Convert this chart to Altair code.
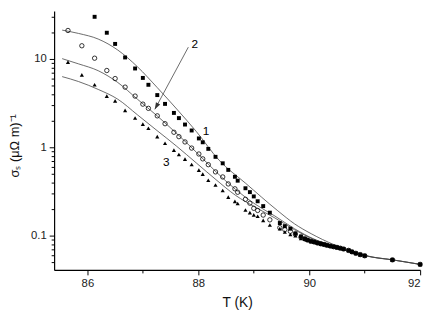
import altair as alt
import pandas as pd

# ---------------- data ----------------
T_MAIN = [85.65, 85.90, 86.13, 86.35, 86.50, 86.68, 86.86, 87.00, 87.10, 87.26,
          87.40, 87.56, 87.65, 87.76, 87.88, 88.01, 88.08, 88.18, 88.31, 88.44,
          88.54, 88.66, 88.71, 88.85, 88.93, 89.00, 89.07, 89.17, 89.29, 89.47,
          89.56, 89.66]
T_TAIL = [89.75, 89.85, 89.92, 89.97, 90.03, 90.09, 90.15, 90.21, 90.27, 90.32,
          90.38, 90.44, 90.50, 90.56, 90.62, 90.71, 90.77, 90.84, 90.92, 91.00,
          91.50, 92.00]

# series 1 (filled squares) starts at T = 86.13
SQ = [30.0, 19.8, 14.8, 10.4, 7.8, 6.1, 5.1, 3.9, 3.1, 2.45, 2.14, 1.81, 1.55,
      1.26, 1.14, 0.96, 0.78, 0.659, 0.555, 0.464, 0.419, 0.344, 0.311, 0.278,
      0.245, 0.216, 0.182, 0.139, 0.128, 0.120]
CI = [21.0, 14.1, 10.2, 7.4, 6.0, 4.8, 3.8, 3.08, 2.76, 2.27, 1.85, 1.48, 1.32,
      1.15, 0.98, 0.84, 0.74, 0.636, 0.527, 0.462, 0.385, 0.339, 0.310, 0.258,
      0.233, 0.204, 0.193, 0.171, 0.151, 0.123, 0.117, 0.112]
TR = [9.2, 6.6, 5.1, 3.8, 3.35, 2.62, 2.15, 1.83, 1.64, 1.32, 1.11, 0.93, 0.83,
      0.735, 0.639, 0.552, 0.497, 0.424, 0.374, 0.324, 0.273, 0.244, 0.231,
      0.195, 0.182, 0.172, 0.166, 0.149, 0.132, 0.120, 0.110, 0.103]

SQ_TAIL = [0.106, 0.098, 0.0925, 0.0893, 0.0866, 0.0848, 0.0826, 0.0808, 0.0794,
           0.0778, 0.0762, 0.0749, 0.0736, 0.0721, 0.0706, 0.0681, 0.0656, 0.0631,
           0.0610, 0.0592, 0.0532, 0.0473]
CI_TAIL = [0.104, 0.096, 0.0919, 0.0891, 0.0864, 0.0847, 0.0825, 0.0808, 0.0794,
           0.0778, 0.0762, 0.0749, 0.0736, 0.0721, 0.0706, 0.0681, 0.0656, 0.0631,
           0.0610, 0.0592, 0.0532, 0.0473]
TR_TAIL = [0.100, 0.093, 0.0912, 0.0888, 0.0862, 0.0846, 0.0824, 0.0807, 0.0793,
           0.0778, 0.0762, 0.0749, 0.0736, 0.0721, 0.0706, 0.0681, 0.0656, 0.0631,
           0.0610, 0.0592, 0.0532, 0.0473]

# fitted curves
C1_T = [85.545, 85.84, 86.195, 86.549, 86.903, 87.257, 87.611, 87.965, 88.372,
        88.85, 89.434, 89.735, 90.035, 90.442, 90.796, 91.15, 91.504, 92.0]
C1_S = [21.2, 19.45, 16.8, 12.6, 8.15, 4.76, 2.71, 1.506, 0.717, 0.393, 0.191,
        0.136, 0.1052, 0.0794, 0.0664, 0.0570, 0.0532, 0.0473]
C2_T = [85.545, 85.84, 86.195, 86.549, 86.903, 87.257, 87.611, 87.965, 88.319,
        88.673, 89.027, 89.381, 89.735, 90.088, 90.442, 91.009, 91.504, 92.0]
C2_S = [10.08, 8.80, 7.36, 5.41, 3.50, 2.27, 1.43, 0.880, 0.528, 0.333, 0.2268,
        0.1668, 0.1197, 0.0914, 0.0764, 0.0592, 0.0532, 0.0473]
C3_T = [85.545, 85.84, 86.195, 86.549, 86.903, 87.257, 87.611, 87.965, 88.319,
        88.673, 89.027, 89.381, 89.735, 90.088, 90.442, 91.009, 91.504, 92.0]
C3_S = [6.31, 5.55, 4.52, 3.50, 2.33, 1.545, 1.026, 0.664, 0.430, 0.2855, 0.210,
        0.1585, 0.1166, 0.0902, 0.0754, 0.0592, 0.0532, 0.0473]

LABELS = ["1", "2", "3"]
LABEL_T = [88.14, 87.935, 87.42]
LABEL_S = [1.545, 14.8, 0.676]

ARROW_T = [87.82, 87.216]
ARROW_S = [13.6, 2.69]

X_TICKS = [86, 87, 88, 89, 90, 91, 92]
Y_TICKS = [0.05, 0.06, 0.07, 0.08, 0.09, 0.1, 0.2, 0.3, 0.4, 0.5, 0.6, 0.7, 0.8,
           0.9, 1, 2, 3, 4, 5, 6, 7, 8, 9, 10, 20, 30]

# ---------------- tables ----------------
sq_df = pd.DataFrame({"T": T_MAIN[2:] + T_TAIL, "s": SQ + SQ_TAIL})
ci_df = pd.DataFrame({"T": T_MAIN + T_TAIL, "s": CI + CI_TAIL})
tr_df = pd.DataFrame({"T": T_MAIN + T_TAIL, "s": TR + TR_TAIL})
curves = pd.concat([
    pd.DataFrame({"T": C1_T, "s": C1_S, "c": "1"}),
    pd.DataFrame({"T": C2_T, "s": C2_S, "c": "2"}),
    pd.DataFrame({"T": C3_T, "s": C3_S, "c": "3"}),
])
lab_df = pd.DataFrame({"T": LABEL_T, "s": LABEL_S, "t": LABELS})
arr_df = pd.DataFrame({"T": ARROW_T, "s": ARROW_S, "o": [0, 1]})
head_df = arr_df.iloc[[1]]

FONT = "Liberation Sans"

x_enc = alt.X(
    "T:Q",
    scale=alt.Scale(domain=[85.4, 92], nice=False, zero=False),
    axis=alt.Axis(
        values=X_TICKS,
        format="d",
        labelExpr="datum.value % 2 == 0 ? datum.label : ''",
        tickSize={"condition": {"test": "datum.value % 2 == 0", "value": 5}, "value": 3},
        title="T (K)",
        titleY=33,
        titleBaseline="middle",
        titleFontSize=14,
        titleFontWeight="normal",
        labelPadding=3,
    ),
)
y_enc = alt.Y(
    "s:Q",
    scale=alt.Scale(type="log", domain=[0.0409, 35.0], nice=False),
    axis=alt.Axis(
        values=Y_TICKS,
        format="~g",
        labelExpr="(datum.value == 0.1 || datum.value == 1 || datum.value == 10) ? datum.label : ''",
        tickSize={"condition": {"test": "datum.value == 0.1 || datum.value == 1 || datum.value == 10",
                                "value": 5}, "value": 3},
        title="σₛ (μΩ m)⁻¹",
        titleX=-40,
        titleY=137,
        titleAngle=270,
        titleAlign="center",
        titleBaseline="middle",
        titleFontSize=13,
        titleFontWeight="normal",
        labelPadding=3,
        labelOverlap=False,
    ),
)

lines = alt.Chart(curves).mark_line(color="#444444", strokeWidth=0.8, interpolate="monotone").encode(
    x=x_enc, y=y_enc, detail="c:N")
squares = alt.Chart(sq_df).mark_point(shape="square", filled=True, color="black", size=16, opacity=1).encode(
    x="T:Q", y="s:Q")
circles = alt.Chart(ci_df).mark_point(shape="circle", filled=False, color="black", size=20,
                                      strokeWidth=0.8, opacity=1).encode(x="T:Q", y="s:Q")
triangles = alt.Chart(tr_df).mark_point(shape="triangle-up", filled=True, color="black", size=18,
                                        opacity=1).encode(x="T:Q", y="s:Q")
arrow = alt.Chart(arr_df).mark_line(color="#444444", strokeWidth=0.8).encode(x="T:Q", y="s:Q", order="o:Q")
head = alt.Chart(head_df).mark_point(shape="M0,0L-0.35,1L0.35,1Z", filled=True, color="#333333",
                                     size=196, angle=208, opacity=1).encode(x="T:Q", y="s:Q")
labels = alt.Chart(lab_df).mark_text(font=FONT, fontSize=12, color="black", fill="black",
                                     align="center", baseline="middle").encode(
    x="T:Q", y="s:Q", text="t:N")

chart = alt.layer(lines, squares, circles, triangles, arrow, head, labels).properties(
    width=373, height=264,
    autosize=alt.AutoSizeParams(type="none"),
    padding={"left": 47, "top": 0, "right": 8, "bottom": 45},
    background="white",
).configure_view(stroke=None).configure_axis(
    grid=False,
    domainColor="black",
    domainWidth=1.2,
    tickColor="black",
    tickWidth=1,
    labelFont=FONT,
    titleFont=FONT,
    labelFontSize=11.5,
    labelColor="#222222",
    titleColor="#111111",
)

chart.save("out.html", embed_options={"renderer": "svg", "actions": False})
